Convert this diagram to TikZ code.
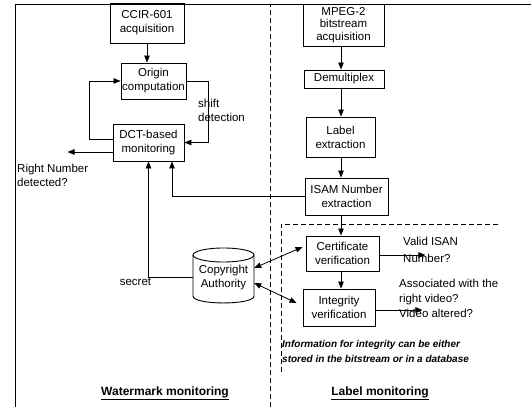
\documentclass[tikz,border=0pt]{standalone}
\usepackage{fontspec}
\setmainfont{Liberation Sans}
\usetikzlibrary{arrows.meta}
\begin{document}
\begin{tikzpicture}[x=1pt,y=1pt,
  every node/.style={font=\fontsize{11.5}{14}\selectfont},
  box/.style={draw, line width=0.9pt, align=center, inner sep=1pt},
  arr/.style={line width=0.8pt, -{Triangle[length=7pt,width=5.5pt]}},
  darr/.style={line width=0.8pt, {Triangle[length=7pt,width=5.5pt]}-{Triangle[length=7pt,width=5.5pt]}},
  lbl/.style={align=left, inner sep=0pt},
  sep/.style={line width=0.8pt, dash pattern=on 5pt off 3pt},
  title/.style={font=\fontsize{12}{14}\selectfont\bfseries, inner sep=0pt}
]
\useasboundingbox (0,0) rectangle (531,407);
\fill[white] (0,0) rectangle (531,407);

% frame and separators
\draw[line width=0.9pt] (15,0) -- (15,403) -- (531,403);
\draw[sep] (270,0) -- (270,403);
\draw[sep] (498,183) -- (281,183) -- (281,32);

% left column
\node[box, minimum width=74pt, minimum height=40pt] (ccir) at (147,384) {CCIR-601\\acquisition};
\node[box, minimum width=65pt, minimum height=36pt] (origin) at (153.5,326) {Origin\\computation};
\node[box, minimum width=71pt, minimum height=37pt] (dct) at (148.5,264.5) {DCT-based\\monitoring};

% right column
\coordinate (colx) at (341,0);
\node[box, minimum width=81pt, minimum height=42pt, font=\fontsize{11.5}{12.5}\selectfont] (mpeg) at (343.5,382) {MPEG-2\\bitstream\\acquisition};
\node[box, minimum width=80pt, minimum height=18pt] (demux) at (344,328) {Demultiplex};
\node[box, minimum width=69pt, minimum height=40pt] (label) at (340.5,270) {Label\\extraction};
\node[box, minimum width=83pt, minimum height=37pt] (isan) at (346.5,210.5) {ISAM Number\\extraction};
\node[box, minimum width=73pt, minimum height=35pt] (cert) at (342.5,153.5) {Certificate\\verification};
\node[box, minimum width=72pt, minimum height=37pt] (integ) at (339,99.5) {Integrity\\verification};

% cylinder
\node[align=center, minimum width=61pt, minimum height=55pt, inner sep=0pt] (cyl) at (223.5,129.5) {Copyright\\Authority};
\draw[line width=0.9pt] (193,152) -- (193,111)
  .. controls (193,101.7) and (254,101.7) .. (254,111) -- (254,152);
\draw[line width=0.9pt] (223.5,152) ellipse [x radius=30.5pt, y radius=7pt];

% left connectors
\draw[arr] (ccir.south) -- (ccir.south |- origin.north);
\draw[arr] ([yshift=3.5pt]dct.west) -- ++(-23,0) |- (origin.west);
\draw[arr] (origin.east) -- ++(22,0) |- (dct.east);
\draw[arr] ([yshift=-9.5pt]dct.west) -- ++(-45,0);
\draw[arr] (cyl.west) -| (dct.south);
\draw[arr] (isan.west) -| ([xshift=23.5pt]dct.south);

% right connectors
\draw[arr] (mpeg.south -| colx) -- (demux.north -| colx);
\draw[arr] (demux.south -| colx) -- (label.north -| colx);
\draw[arr] (label.south -| colx) -- (isan.north -| colx);
\draw[arr] (isan.south -| colx) -- (cert.north -| colx);
\draw[arr] (cert.south -| colx) -- (integ.north -| colx);
\draw[darr] ([yshift=9.5pt]cyl.east) -- ([xshift=-3pt,yshift=6.5pt]cert.west);
\draw[darr] ([yshift=-5.5pt]cyl.east) -- ([xshift=-6pt,yshift=4.5pt]integ.west);
\draw[arr] ([yshift=-1.5pt]cert.east) -- ++(46,0);
\draw[arr] ([yshift=-2.5pt]integ.east) -- ++(47,0);

% labels
\node[lbl, anchor=north west] (rn) at (17,243) {Right Number\\detected?};
\node[lbl, anchor=north west] (sd) at (198,308) {shift\\detection};
\node[inner sep=0pt] (sec) at (135.5,125) {secret};
\node[lbl, anchor=north west, font=\fontsize{11.5}{17}\selectfont] (vi) at (403,170) {Valid ISAN\\Number?};
\node[lbl, anchor=north west, font=\fontsize{11.5}{15}\selectfont] (as) at (399,128) {Associated with the\\right video?\\Video altered?};
\node[lbl, anchor=north west, font=\fontsize{10}{15}\selectfont\bfseries\itshape] (note) at (282,67) {Information for integrity can be either\\stored in the bitstream or in a database};
\node[title] (wm) at (165,14) {\underline{Watermark monitoring}};
\node[title] (lm) at (380,14) {\underline{Label monitoring}};
\end{tikzpicture}
\end{document}
